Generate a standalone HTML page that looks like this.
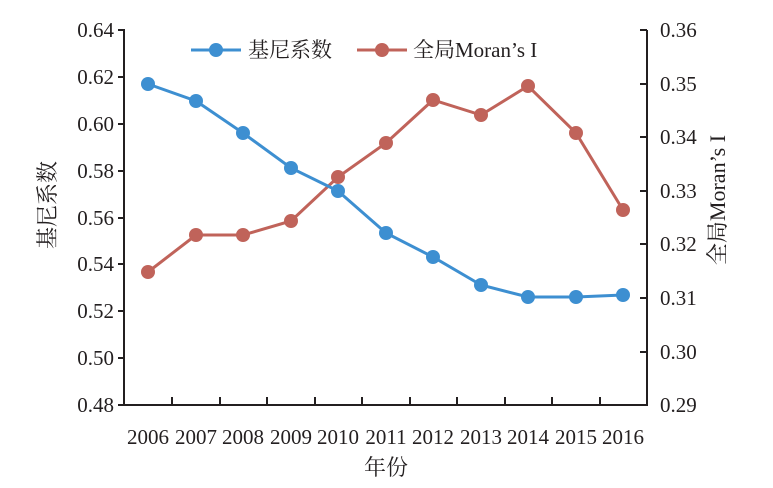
<!DOCTYPE html><html><head><meta charset="utf-8"><style>body{margin:0;background:#fff}svg{display:block}text{font-family:"Liberation Serif","Noto Serif CJK SC",serif;fill:#231f20}</style></head><body>
<svg width="773" height="488" xmlns="http://www.w3.org/2000/svg">
<g stroke="#231f20" stroke-width="2" fill="none">
<path d="M124,30V405H647V30"/>
<path d="M118,30H125M118,77H125M118,124H125M118,171H125M118,218H125M118,264H125M118,311H125M118,358H125M118,405H125"/>
<path d="M647,30H640M647,84H640M647,137H640M647,191H640M647,244H640M647,298H640M647,352H640"/>
<path d="M172,405V397M220,405V397M267,405V397M315,405V397M362,405V397M410,405V397M457,405V397M505,405V397M552,405V397M600,405V397"/>
</g>
<g font-size="21" text-anchor="end">
<text x="114" y="37">0.64</text><text x="114" y="84">0.62</text><text x="114" y="131">0.60</text><text x="114" y="178">0.58</text><text x="114" y="225">0.56</text><text x="114" y="271">0.54</text><text x="114" y="318">0.52</text><text x="114" y="365">0.50</text><text x="114" y="412">0.48</text>
</g>
<g font-size="21">
<text x="660" y="37">0.36</text><text x="660" y="91">0.35</text><text x="660" y="144">0.34</text><text x="660" y="198">0.33</text><text x="660" y="251">0.32</text><text x="660" y="305">0.31</text><text x="660" y="359">0.30</text><text x="660" y="412">0.29</text>
</g>
<g font-size="21" text-anchor="middle">
<text x="148" y="444">2006</text><text x="196" y="444">2007</text><text x="243" y="444">2008</text><text x="291" y="444">2009</text><text x="338" y="444">2010</text><text x="386" y="444">2011</text><text x="433" y="444">2012</text><text x="481" y="444">2013</text><text x="528" y="444">2014</text><text x="576" y="444">2015</text><text x="623" y="444">2016</text>
<text x="386" y="475" font-size="22">年份</text>
<text transform="translate(55,205) rotate(-90)" font-size="22">基尼系数</text>
<text transform="translate(725,200) rotate(-90)" font-size="22">全局Moran’s I</text>
</g>
<polyline fill="none" stroke="#c0635a" stroke-width="3" points="148,272 196,235 243,235 291,221 338,177 386,143 433,100 481,115 528,86 576,133 623,210"/>
<g fill="#c0635a"><circle cx="148" cy="272" r="7"/><circle cx="196" cy="235" r="7"/><circle cx="243" cy="235" r="7"/><circle cx="291" cy="221" r="7"/><circle cx="338" cy="177" r="7"/><circle cx="386" cy="143" r="7"/><circle cx="433" cy="100" r="7"/><circle cx="481" cy="115" r="7"/><circle cx="528" cy="86" r="7"/><circle cx="576" cy="133" r="7"/><circle cx="623" cy="210" r="7"/></g>
<polyline fill="none" stroke="#3d8fd1" stroke-width="3" points="148,84 196,101 243,133 291,168 338,191 386,233 433,257 481,285 528,297 576,297 623,295"/>
<g fill="#3d8fd1"><circle cx="148" cy="84" r="7"/><circle cx="196" cy="101" r="7"/><circle cx="243" cy="133" r="7"/><circle cx="291" cy="168" r="7"/><circle cx="338" cy="191" r="7"/><circle cx="386" cy="233" r="7"/><circle cx="433" cy="257" r="7"/><circle cx="481" cy="285" r="7"/><circle cx="528" cy="297" r="7"/><circle cx="576" cy="297" r="7"/><circle cx="623" cy="295" r="7"/></g>
<line x1="191" y1="50" x2="241" y2="50" stroke="#3d8fd1" stroke-width="3"/><circle cx="216" cy="50" r="7" fill="#3d8fd1"/>
<text x="248" y="57" font-size="21">基尼系数</text>
<line x1="357" y1="50" x2="407" y2="50" stroke="#c0635a" stroke-width="3"/><circle cx="382" cy="50" r="7" fill="#c0635a"/>
<text x="413" y="57" font-size="21">全局Moran’s I</text>
</svg></body></html>
